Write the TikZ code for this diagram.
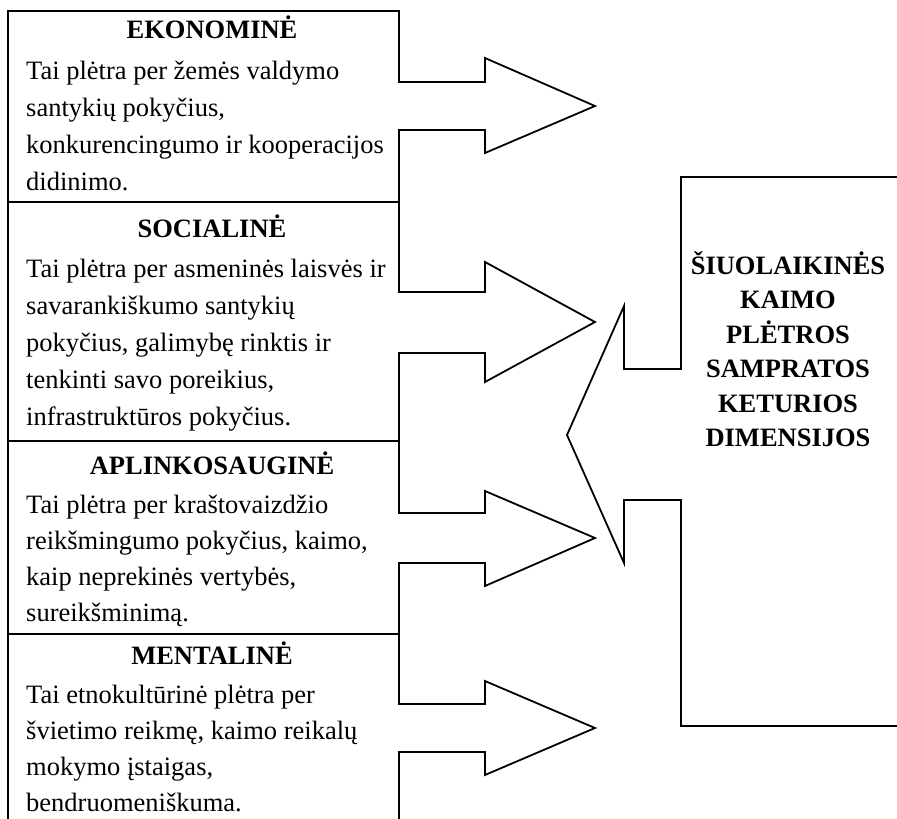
\documentclass[tikz,border=0pt]{standalone}
\usepackage{fontspec}
\setmainfont{Liberation Serif}
\begin{document}
\begin{tikzpicture}[x=1pt,y=-1pt,
  outline/.style={draw=black, line width=1.8pt, line join=miter},
  ttl/.style={anchor=base, inner sep=0pt, font=\fontsize{26.5}{30}\selectfont\bfseries},
  bodyln/.style={anchor=base west, inner sep=0pt, font=\fontsize{26.5}{30}\selectfont},
  bigttl/.style={anchor=base, inner sep=0pt, font=\fontsize{26.5}{30}\selectfont\bfseries}]
\useasboundingbox (0,0) rectangle (897,819);

% left column outline with the four block arrows
\draw[outline] (8,823) -- (8,11) -- (399,11)
  -- (399,82) -- (485,82) -- (485,58) -- (595,106) -- (485,153) -- (485,130) -- (399,130)
  -- (399,292) -- (485,292) -- (485,262) -- (595,322) -- (485,382) -- (485,353) -- (399,353)
  -- (399,513) -- (485,513) -- (485,491) -- (595,538) -- (485,586) -- (485,563) -- (399,563)
  -- (399,704) -- (485,704) -- (485,681) -- (595,728) -- (485,775) -- (485,752) -- (399,752)
  -- (399,823);
\draw[outline] (8,202) -- (399,202);
\draw[outline] (8,441) -- (399,441);
\draw[outline] (8,634) -- (399,634);

% right shape
\draw[outline] (900,177) -- (681,177) -- (681,369) -- (624,369) -- (624,306) -- (567,435)
  -- (624,563) -- (624,500) -- (681,500) -- (681,726) -- (900,726);

% box 1
\node[ttl] (t1) at (212,38) {EKONOMINĖ};
\node[bodyln] (b11) at (26,79) {Tai plėtra per žemės valdymo};
\node[bodyln] (b12) at (26,116) {santykių pokyčius,};
\node[bodyln] (b13) at (26,153) {konkurencingumo ir kooperacijos};
\node[bodyln] (b14) at (26,190) {didinimo.};

% box 2
\node[ttl] (t2) at (212,237) {SOCIALINĖ};
\node[bodyln] (b21) at (26,277) {Tai plėtra per asmeninės laisvės ir};
\node[bodyln] (b22) at (26,314) {savarankiškumo santykių};
\node[bodyln] (b23) at (26,351) {pokyčius, galimybę rinktis ir};
\node[bodyln] (b24) at (26,388) {tenkinti savo poreikius,};
\node[bodyln] (b25) at (26,425) {infrastruktūros pokyčius.};

% box 3
\node[ttl] (t3) at (212,474) {APLINKOSAUGINĖ};
\node[bodyln] (b31) at (26,513) {Tai plėtra per kraštovaizdžio};
\node[bodyln] (b32) at (26,549) {reikšmingumo pokyčius, kaimo,};
\node[bodyln] (b33) at (26,585) {kaip neprekinės vertybės,};
\node[bodyln] (b34) at (26,621) {sureikšminimą.};

% box 4
\node[ttl] (t4) at (212,664) {MENTALINĖ};
\node[bodyln] (b41) at (26,703) {Tai etnokultūrinė plėtra per};
\node[bodyln] (b42) at (26,739) {švietimo reikmę, kaimo reikalų};
\node[bodyln] (b43) at (26,775) {mokymo įstaigas,};
\node[bodyln] (b44) at (26,811) {bendruomeniškuma.};

% right text
\node[bigttl] (r1) at (788,274) {ŠIUOLAIKINĖS};
\node[bigttl] (r2) at (788,308.5) {KAIMO};
\node[bigttl] (r3) at (788,343) {PLĖTROS};
\node[bigttl] (r4) at (788,377.5) {SAMPRATOS};
\node[bigttl] (r5) at (788,412) {KETURIOS};
\node[bigttl] (r6) at (788,446.5) {DIMENSIJOS};
\end{tikzpicture}
\end{document}
